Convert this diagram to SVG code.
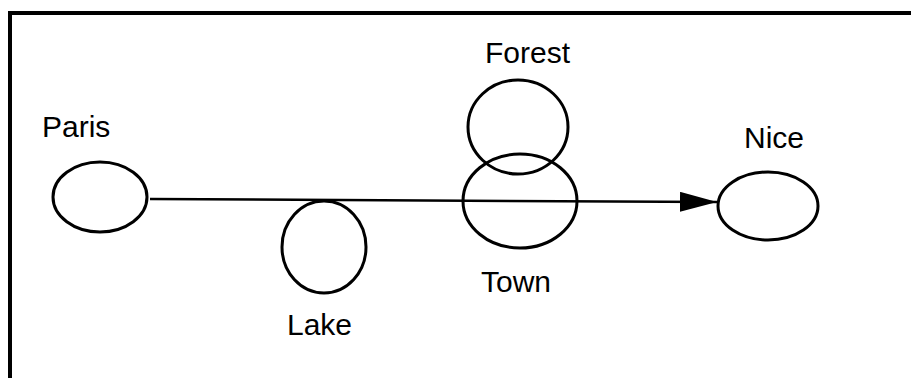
<svg xmlns="http://www.w3.org/2000/svg" width="911" height="378" viewBox="0 0 911 378">
<style>
.node{fill:none;stroke:#000;stroke-width:3}
.lbl{font-family:"Liberation Sans",Arial,sans-serif;font-size:30px;fill:#000}
.edge{stroke:#000;stroke-width:2.5;fill:none}
</style>
<defs>
<marker id="arrow" markerUnits="userSpaceOnUse" markerWidth="40" markerHeight="22" refX="37" refY="10" orient="auto">
<path d="M0,0 L37,10 L0,20 Z" fill="#000"/>
</marker>
</defs>
<rect width="911" height="378" fill="#fff"/>
<path d="M10,378 L10,13 L911,13" fill="none" stroke="#000" stroke-width="4"/>
<g id="connectors">
<path class="edge" d="M150,199 L717,202" marker-end="url(#arrow)"/>
</g>
<g id="paris">
<ellipse class="node" cx="100" cy="197" rx="47" ry="35"/>
<text class="lbl" x="42" y="137">Paris</text>
</g>
<g id="lake">
<ellipse class="node" cx="324" cy="247" rx="42" ry="46"/>
<text class="lbl" x="287" y="335">Lake</text>
</g>
<g id="forest">
<ellipse class="node" cx="518" cy="127" rx="50" ry="47"/>
<text class="lbl" x="485" y="63">Forest</text>
</g>
<g id="town">
<ellipse class="node" cx="520" cy="201" rx="57" ry="47"/>
<text class="lbl" x="481" y="292">Town</text>
</g>
<g id="nice">
<ellipse class="node" cx="768" cy="206" rx="50" ry="34"/>
<text class="lbl" x="744" y="148">Nice</text>
</g>
</svg>
